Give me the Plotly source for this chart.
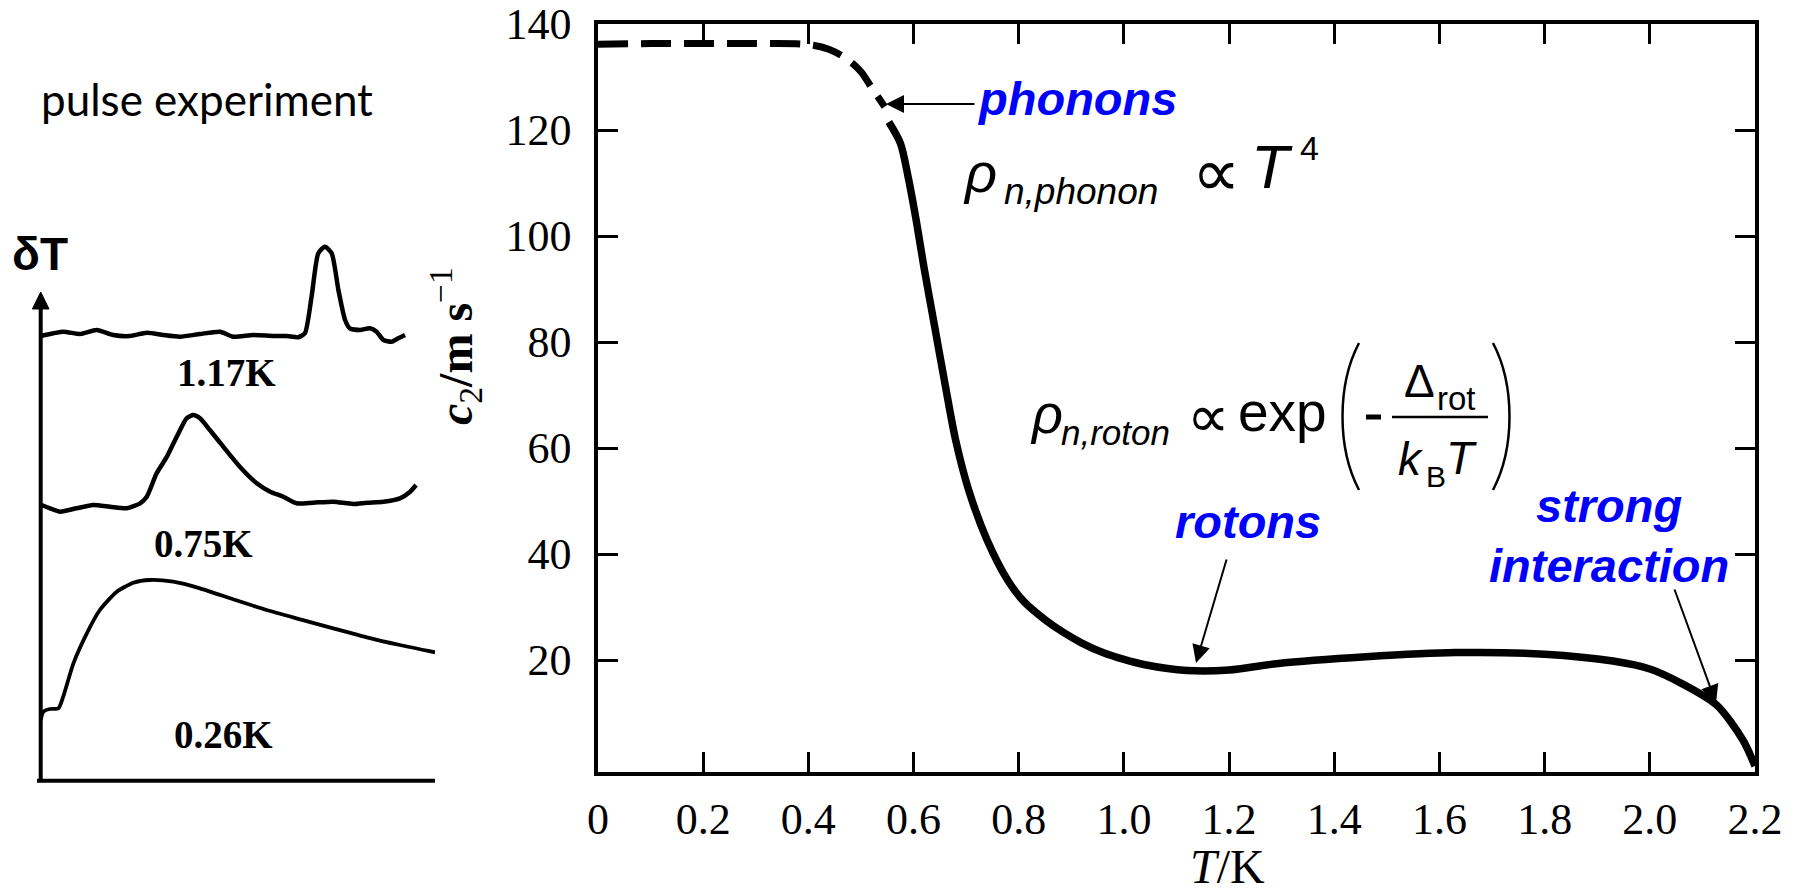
import plotly.graph_objects as go

W, H = 1797, 895

# ---------------- data ----------------
# main chart: second-sound velocity c2 vs T
T_dashed = [0.0, 0.1, 0.2, 0.3, 0.40, 0.44, 0.476, 0.50, 0.519, 0.545]
c2_dashed = [136.2, 136.3, 136.3, 136.3, 136.1, 135.2, 133.2, 131.0, 128.2, 124.4]

T_solid = [0.553, 0.575, 0.59, 0.605, 0.62, 0.64, 0.66, 0.68, 0.705, 0.74, 0.78,
           0.81, 0.85, 0.885, 0.92, 0.96, 1.0, 1.04, 1.12, 1.2, 1.29, 1.46, 1.63, 1.80,
           1.93, 2.0, 2.06, 2.127, 2.177, 2.2]
c2_solid = [121.5, 117.5, 111.0, 103.0, 94.0, 83.0, 72.0, 61.5, 52.0, 42.6, 34.9,
            31.0, 27.6, 25.2, 23.2, 21.4, 20.1, 19.1, 18.0, 18.1, 19.3, 20.6, 21.4, 21.1,
            19.8, 18.3, 15.6, 11.5, 4.9, 0.0]

x_ticks = [0, 0.2, 0.4, 0.6, 0.8, 1.0, 1.2, 1.4, 1.6, 1.8, 2.0, 2.2]
x_ticklabels = ["0", "0.2", "0.4", "0.6", "0.8", "1.0", "1.2", "1.4", "1.6", "1.8", "2.0", "2.2"]
y_ticks = [20, 40, 60, 80, 100, 120, 140]
y_ticklabels = ["20", "40", "60", "80", "100", "120", "140"]

# left panel: heat-pulse signals (time in arbitrary units, deltaT in arbitrary units)
t_117 = [0, 5.7, 10.0, 14.2, 18.4, 22.6, 26.9, 31.1, 35.3, 40.4, 45.5, 48.8, 53.9, 59.0,
         62.4, 65.3, 67.0, 68.7, 70.4, 72.1, 73.8, 75.5, 77.2, 78.4, 81.0, 83.5, 85.2,
         86.9, 89.0, 90.7, 92.4]
dT_117 = [444.7, 449.0, 446.7, 450.7, 445.7, 444.7, 448.0, 445.7, 444.0, 446.7, 449.0,
          444.0, 445.7, 444.7, 444.7, 443.4, 447.4, 484.0, 527.4, 534.0, 527.4, 490.7,
          460.7, 452.4, 450.7, 452.4, 449.0, 440.7, 439.0, 442.4, 445.7]

t_075 = [0.25, 2.36, 4.9, 9.1, 13.3, 17.6, 21.8, 25.2, 26.9, 29.4, 32.0, 34.5, 37.0,
         38.7, 40.4, 42.9, 46.3, 50.5, 54.8, 58.2, 61.5, 64.9, 69.1, 74.2, 79.3, 82.7,
         86.9, 91.1, 93.7, 95.2]
dT_075 = [275.7, 272.4, 269.0, 272.4, 275.7, 274.0, 272.4, 277.4, 284.0, 307.4, 324.0,
          344.0, 362.4, 365.7, 362.4, 350.7, 334.0, 314.0, 297.4, 289.0, 284.0, 277.4,
          278.0, 279.0, 276.7, 278.0, 279.0, 282.4, 289.0, 295.7]

t_026 = [0, 0.66, 2.36, 4.5, 5.7, 8.3, 11.7, 15.0, 19.3, 23.5, 27.7, 33.6, 40.4, 48.8,
         57.3, 65.8, 74.2, 82.7, 91.1, 100.0]
dT_026 = [60.7, 69.0, 71.7, 72.4, 84.0, 117.4, 147.4, 170.7, 189.0, 198.0, 200.7, 199.0,
          192.4, 181.4, 170.7, 161.4, 152.4, 143.4, 135.7, 128.4]

pulse_labels = ["1.17K", "0.75K", "0.26K"]

# ---------------- helpers (pixel -> paper) ----------------
def P(xp, yp):
    return xp / W, 1 - yp / H


def text_ann(text, xp, baseline, size, family, color="black", xanchor="center",
             k=0.35, angle=0):
    x, y = P(xp, baseline - k * size)
    return dict(text=text, x=x, y=y, xref="paper", yref="paper", showarrow=False,
                font=dict(size=size, family=family, color=color),
                xanchor=xanchor, yanchor="middle", textangle=angle, borderpad=0)


def arrow_ann(tip, tail, width=2, head=2, size=1.6):
    x, y = P(*tip)
    return dict(text="", x=x, y=y, xref="paper", yref="paper", showarrow=True,
                ax=tail[0] - tip[0], ay=tail[1] - tip[1], axref="pixel", ayref="pixel",
                arrowhead=head, arrowsize=size, arrowwidth=width, arrowcolor="black")


def line_shape(p0, p1, width, color="black"):
    x0, y0 = P(*p0)
    x1, y1 = P(*p1)
    return dict(type="line", xref="paper", yref="paper", x0=x0, y0=y0, x1=x1, y1=y1,
                line=dict(color=color, width=width))


def path_shape(segments, width, fill=None):
    parts = []
    for cmd, pts in segments:
        coords = " ".join("%.5f,%.5f" % P(*p) for p in pts)
        parts.append(cmd + coords)
    d = " ".join(parts)
    if fill:
        d += " Z"
    s = dict(type="path", xref="paper", yref="paper", path=d,
             line=dict(color="black", width=width))
    if fill:
        s["fillcolor"] = fill
    return s


BLUE = "#0000FF"
SANS = "Liberation Sans, Arial, sans-serif"
SERIF = "Liberation Serif, Times New Roman, serif"

fig = go.Figure()

# main chart
fig.add_trace(go.Scatter(x=T_dashed, y=c2_dashed, mode="lines",
                         line=dict(color="black", width=7, dash="30px,13px", shape="spline"),
                         xaxis="x", yaxis="y", showlegend=False, hoverinfo="skip"))
fig.add_trace(go.Scatter(x=T_solid, y=c2_solid, mode="lines",
                         line=dict(color="black", width=7.5, shape="spline", smoothing=0.8),
                         xaxis="x", yaxis="y", showlegend=False, hoverinfo="skip"))

# left panel
for t, d, w in [(t_117, dT_117, 4.5), (t_075, dT_075, 4.5), (t_026, dT_026, 3.8)]:
    fig.add_trace(go.Scatter(x=t, y=d, mode="lines",
                             line=dict(color="black", width=w, shape="spline", smoothing=0.6),
                             xaxis="x2", yaxis="y2", showlegend=False, hoverinfo="skip"))

axis_common = dict(showline=True, linecolor="black", linewidth=3.5, mirror="ticks",
                   ticks="inside", ticklen=20, tickwidth=3, tickcolor="black",
                   showgrid=False, zeroline=False, automargin=False,
                   tickfont=dict(family=SERIF, size=44, color="black"))

fig.update_layout(
    template="none",
    width=W, height=H, margin=dict(l=0, r=0, t=0, b=0, pad=0, autoexpand=False),
    paper_bgcolor="white", plot_bgcolor="white", showlegend=False,
    xaxis=dict(domain=[598 / W, 1755 / W], range=[0, 2.2], tickvals=x_ticks,
               ticktext=x_ticklabels, anchor="y", ticklabelstandoff=6, **axis_common),
    yaxis=dict(domain=[1 - 771.7 / H, 1 - 24 / H], range=[-1.075, 140], tickvals=y_ticks,
               ticktext=y_ticklabels, anchor="x", ticklabelstandoff=14, **axis_common),
    xaxis2=dict(domain=[40.7 / W, 435 / W], range=[0, 100], visible=False, anchor="y2",
                automargin=False),
    yaxis2=dict(domain=[1 - 780.7 / H, 1 - 240 / H], range=[0, 540.7], visible=False,
                anchor="x2", automargin=False),
)

ann = []
# axis titles
ann.append(text_ann("<b><i>c</i></b><sub>2</sub><b>/m s</b><sup>−1</sup>", 455.5, 346.5,
                    48, SERIF, k=0, angle=-90))
ann.append(text_ann("<i>T</i>/K", 1227, 883, 48, SERIF))

# blue labels
ann.append(text_ann("<b><i>phonons</i></b>", 1076.5, 115, 47, SANS, BLUE))
ann.append(text_ann("<b><i>rotons</i></b>", 1247.5, 538, 47, SANS, BLUE))
ann.append(text_ann("<b><i>strong</i></b>", 1609, 522, 47, SANS, BLUE))
ann.append(text_ann("<b><i>interaction</i></b>", 1609, 582, 47, SANS, BLUE))

# phonon formula
ann.append(text_ann("<i>ρ</i>", 962, 192, 56, SANS, xanchor="left"))
ann.append(text_ann("<i>n,phonon</i>", 1003, 204, 37, SANS, xanchor="left"))
ann.append(text_ann("∝", 1216, 172, 68, "DejaVu Sans", k=0))
ann.append(text_ann("<i>T</i>", 1272, 188, 62, SANS))
ann.append(text_ann("4", 1309, 160, 34, SANS))

# roton formula
ann.append(text_ann("<i>ρ</i>", 1029, 433, 54, SANS, xanchor="left"))
ann.append(text_ann("<i>n,roton</i>", 1060, 445, 35, SANS, xanchor="left"))
ann.append(text_ann("∝", 1208, 416, 60, "DejaVu Sans", k=0))
ann.append(text_ann("exp", 1282, 431, 55, SANS))
ann.append(text_ann("Δ", 1419, 397, 46, SANS))
ann.append(text_ann("rot", 1456, 410, 33, SANS))
ann.append(text_ann("<i>k</i>", 1410, 475, 46, SANS))
ann.append(text_ann("B", 1436, 487, 30, SANS))
ann.append(text_ann("<i>T</i>", 1461, 474, 46, SANS))

# left panel texts
ann.append(text_ann("pulse experiment", 206.5, 114, 44, "Lato, Open Sans, sans-serif"))
ann.append(text_ann("<b>δT</b>", 40, 270, 46, SANS))
ann.append(text_ann("<b>%s</b>" % pulse_labels[0], 226.7, 386, 39, SERIF))
ann.append(text_ann("<b>%s</b>" % pulse_labels[1], 203.3, 557, 39, SERIF))
ann.append(text_ann("<b>%s</b>" % pulse_labels[2], 223, 748, 39, SERIF))

# arrows
ann.append(arrow_ann((886, 104), (976, 104), width=2, head=2, size=1.8))
ann.append(arrow_ann((1196, 663), (1227, 558), width=2, head=2, size=1.8))
ann.append(arrow_ann((1716, 703), (1674, 588), width=2, head=2, size=1.8))

fig.update_layout(annotations=ann)

shapes = []
# roton formula: parentheses, minus sign, fraction bar
shapes.append(path_shape([("M", [(1359, 343)]),
                          ("C", [(1337, 385), (1337, 448), (1359, 490)])], 2.5))
shapes.append(path_shape([("M", [(1493, 343)]),
                          ("C", [(1515, 385), (1515, 448), (1493, 490)])], 2.5))
shapes.append(line_shape((1366, 417), (1381, 417), 5))
shapes.append(line_shape((1392, 417), (1488, 417), 2.5))
# left panel axes
shapes.append(line_shape((37, 780.7), (435, 780.7), 4))
shapes.append(line_shape((40.7, 780.7), (40.7, 305), 4))
shapes.append(path_shape([("M", [(40.7, 292)]), ("L", [(49, 309)]), ("L", [(32.4, 309)])],
                         1, fill="black"))
fig.update_layout(shapes=shapes)

fig.write_html("out.html")
